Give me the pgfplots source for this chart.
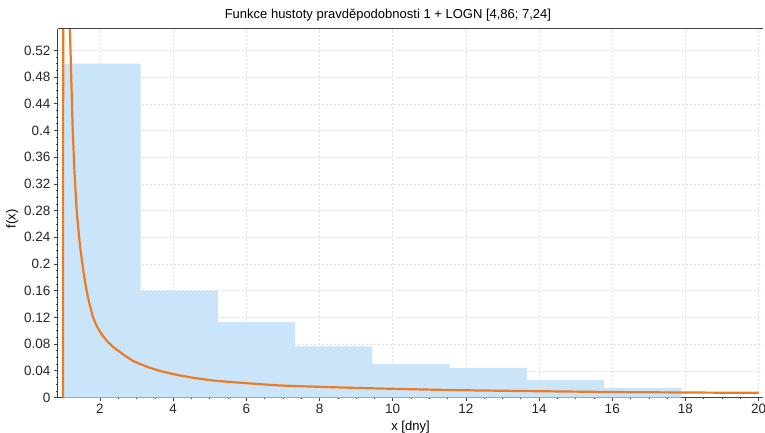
\documentclass[border=0pt]{standalone}
\usepackage{fontspec}
\setmainfont{Liberation Sans}
\usepackage{pgfplots}
\pgfplotsset{compat=1.18}
\definecolor{barblue}{RGB}{202,228,250}
\definecolor{curveorange}{RGB}{234,124,36}
\definecolor{axisgray}{RGB}{64,64,64}
\begin{document}
\begin{tikzpicture}
\begin{axis}[
  at={(0pt,0pt)}, anchor=south west,
  scale only axis, width=705pt, height=368.5pt,
  xmin=0.852, xmax=20.12, ymin=0, ymax=0.552,
  axis lines=left,
  axis line style={axisgray, line width=1pt, -},
  xtick={2,4,...,20},
  ytick={0,0.04,...,0.53},
  minor x tick num=3, minor y tick num=3,
  tick align=outside,
  major tick length=4pt, minor tick length=2pt,
  every tick/.style={axisgray, line width=0.6pt},
  xmajorgrids=true, ymajorgrids=true,
  xminorgrids=false, yminorgrids=false,
  major grid style={gray!25, dash pattern=on 2pt off 2pt, line width=0.5pt},
  /pgf/number format/assume math mode=true,
  /pgf/number format/fixed, /pgf/number format/precision=2,
  tick label style={font=\fontsize{13.5}{15}\selectfont, text=black!85},
  xticklabel style={yshift=1pt},
  title={Funkce hustoty pravděpodobnosti 1 + LOGN [4,86; 7,24]},
  title style={font=\fontsize{13}{15}\selectfont, at={(rel axis cs:0.468,1)}, yshift=-2pt},
  xlabel={x [dny]},
  xlabel style={font=\fontsize{13}{15}\selectfont, yshift=-1pt},
  ylabel={f(x)},
  ylabel style={font=\fontsize{13}{15}\selectfont, at={(ticklabel cs:0.485)}, yshift=-1pt},
]
\addplot[ybar interval, fill=barblue, draw=none] coordinates {
  (1,0.5) (3.111,0.16) (5.222,0.1128) (7.333,0.0764) (9.444,0.0505)
  (11.556,0.0445) (13.667,0.0265) (15.778,0.0145) (17.889,0)
};
\addplot[curveorange, line width=2.2pt, line join=round] coordinates {
  (0.99,0) (0.995,0.8) (1.0,2.0) (1.06,1.2) (1.12,0.75) (1.175,0.553)
  (1.20,0.508) (1.25,0.408) (1.30,0.340) (1.36,0.282) (1.42,0.245)
  (1.47,0.220) (1.55,0.188) (1.62,0.164) (1.70,0.143) (1.81,0.120)
  (1.92,0.106) (2.04,0.095) (2.20,0.084) (2.35,0.076) (2.50,0.070)
  (2.70,0.062) (2.90,0.055) (3.10,0.050) (3.36,0.0445) (3.63,0.040)
  (3.90,0.0363) (4.18,0.033) (4.60,0.029) (5.08,0.0255) (5.50,0.0235)
  (6.0,0.0215) (6.45,0.0197) (6.91,0.018) (7.6,0.0167) (8.28,0.0155)
  (9.1,0.0142) (10,0.013) (11,0.0118) (12,0.0108) (13,0.0101)
  (14,0.0094) (15,0.0088) (16,0.0082) (17,0.0078) (18,0.0075)
  (19,0.0072) (20,0.007)
};
\draw[axisgray, line width=1pt] (rel axis cs:0,1) -- (rel axis cs:1,1);
\end{axis}
\pgfresetboundingbox
\path[use as bounding box] (-58pt,-35.5pt) rectangle (707pt,397.5pt);
\end{tikzpicture}
\end{document}
